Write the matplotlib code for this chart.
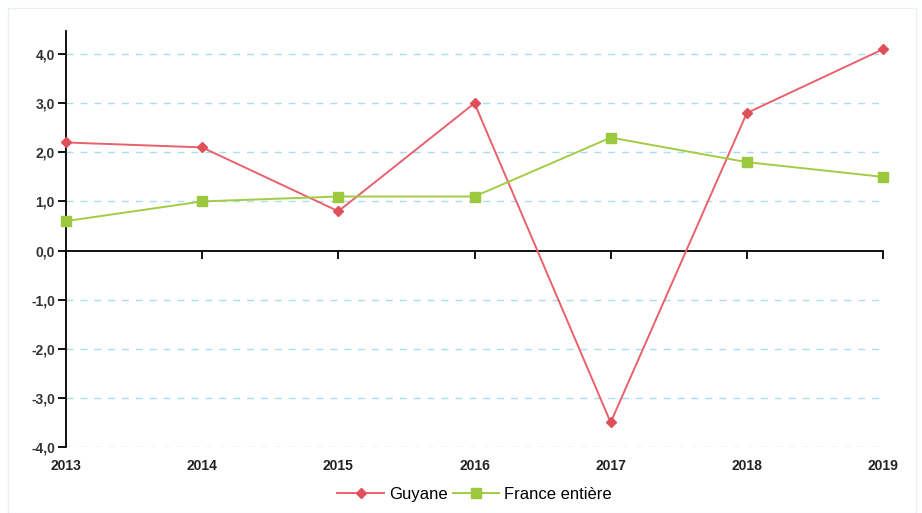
import matplotlib.pyplot as plt
import matplotlib.transforms as mtransforms
from matplotlib.ticker import FuncFormatter

years = [2013, 2014, 2015, 2016, 2017, 2018, 2019]
guyane = [2.2, 2.1, 0.8, 3.0, -3.5, 2.8, 4.1]
france = [0.6, 1.0, 1.1, 1.1, 2.3, 1.8, 1.5]
yticks = [-4, -3, -2, -1, 0, 1, 2, 3, 4]

plt.rcParams['font.family'] = ['Liberation Sans', 'DejaVu Sans']

fig = plt.figure(figsize=(9.22, 5.13), dpi=100)
ax = fig.add_axes([66/922, 1-447/513, (883-66)/922, (447-31)/513])

# light frame around the chart
fig.patches.append(plt.Rectangle((8/922, 0.0), (916-8)/922, 1-8/513, transform=fig.transFigure,
                                 fill=False, edgecolor='#e8f0f5', lw=1))

for v in yticks:
    if v != 0:
        ax.axhline(v, color='#a8def2', lw=1, ls=(0, (5, 5)), zorder=0)

ax.plot(years, guyane, color='#e8616b', lw=1.4, marker='D', ms=5.5, clip_on=False,
        markerfacecolor='#e0505a', markeredgecolor='#e0505a', label='Guyane', zorder=3)
ax.plot(years, france, color='#a2cc45', lw=1.4, marker='s', ms=7.5, clip_on=False,
        markerfacecolor='#9bc83c', markeredgecolor='#9bc83c', label='France entière', zorder=3)

ax.set_xlim(2013, 2019)
ax.set_ylim(-4.0, 4.47)
ax.set_yticks(yticks)
ax.yaxis.set_major_formatter(FuncFormatter(lambda v, p: f"{v:.1f}".replace('.', ',')))

for s in ['top', 'right']:
    ax.spines[s].set_visible(False)
ax.spines['bottom'].set_position(('data', 0))
ax.spines['left'].set_linewidth(1.3)
ax.spines['bottom'].set_linewidth(1.3)
ax.tick_params(axis='y', direction='out', length=6, width=1.3, labelsize=10, pad=2)
ax.tick_params(axis='x', direction='out', length=6, width=1.3, labelbottom=False)
ax.set_xticks(years)
for t in ax.get_yticklabels():
    t.set_fontweight('bold')
    t.set_color('#333333')

trans = mtransforms.blended_transform_factory(ax.transData, ax.transAxes)
for y in years:
    ax.text(y, 0, str(y), transform=trans + mtransforms.ScaledTranslation(0, -14/72, fig.dpi_scale_trans),
            ha='center', va='center', fontsize=10, fontweight='bold', color='#222222')

ax.legend(loc='center', bbox_to_anchor=(0.5, -0.113), ncol=2, frameon=False, fontsize=12,
          handlelength=2.8, handletextpad=0.3, columnspacing=0.3, borderaxespad=0)

fig.savefig('out.png', dpi=100)
